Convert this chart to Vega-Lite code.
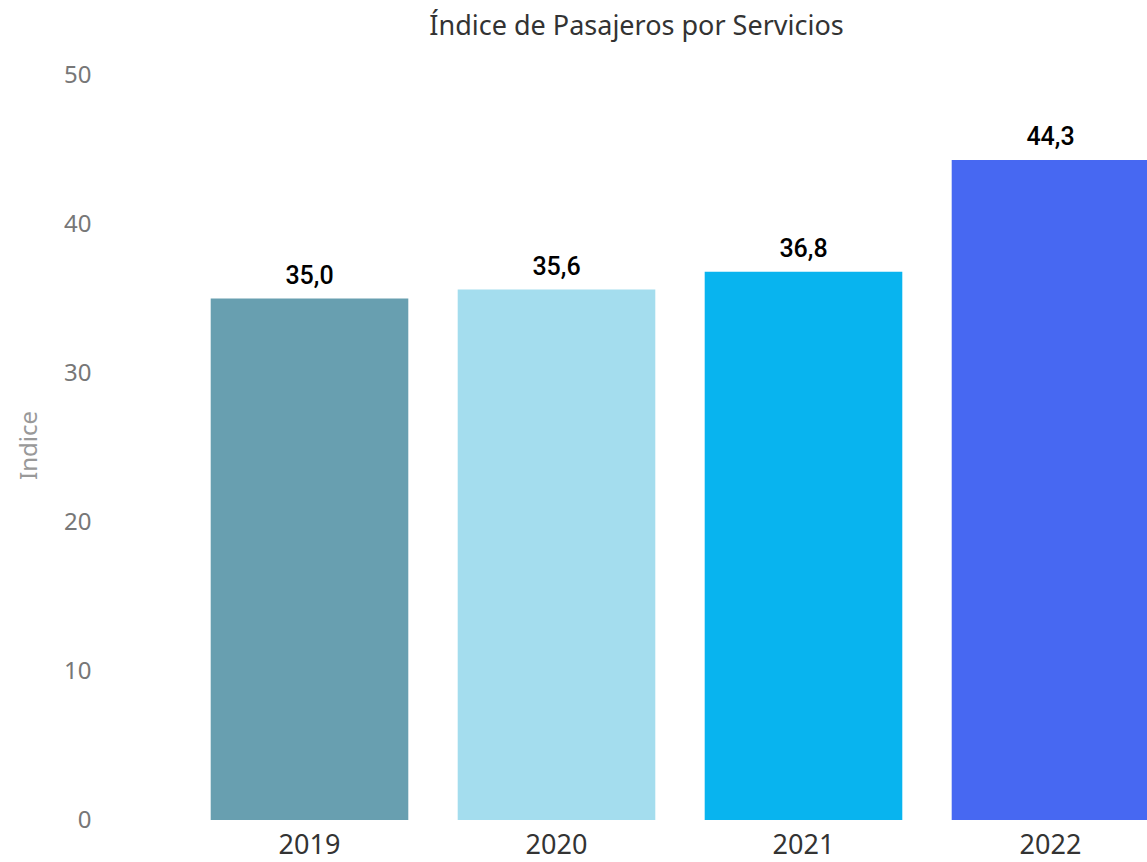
{
  "$schema": "https://vega.github.io/schema/vega-lite/v6.json",
  "autosize": {"type": "none"},
  "width": 961,
  "height": 745,
  "padding": {"left": 186, "top": 75, "right": 0, "bottom": 42},
  "background": "white",
  "config": {
    "view": {"stroke": null},
    "locale": {"number": {"decimal": ",", "thousands": ".", "grouping": [3], "currency": ["", " €"]}}
  },
  "title": {
    "text": "Índice de Pasajeros por Servicios",
    "font": "Noto Sans",
    "fontSize": 27,
    "fontWeight": "normal",
    "color": "#333333",
    "anchor": "middle",
    "frame": "group",
    "dx": -30,
    "dy": 37,
    "baseline": "alphabetic",
    "offset": 38
  },
  "data": {
    "values": [
      {"year": "2019", "indice": 35.0},
      {"year": "2020", "indice": 35.6},
      {"year": "2021", "indice": 36.8},
      {"year": "2022", "indice": 44.3}
    ]
  },
  "encoding": {
    "x": {
      "field": "year",
      "type": "nominal",
      "sort": null,
      "scale": {"range": [0, 988], "paddingInner": 0.2, "paddingOuter": 0.1},
      "axis": {
        "title": null,
        "labelAngle": 0,
        "labelFont": "Noto Sans",
        "labelFontSize": 27,
        "labelColor": "#333333",
        "labelPadding": 12,
        "domain": false,
        "ticks": false
      }
    },
    "y": {
      "field": "indice",
      "type": "quantitative",
      "scale": {"domain": [0, 50]},
      "axis": {
        "title": "Indice",
        "titleFont": "Noto Sans",
        "titleFontSize": 24,
        "titleFontWeight": "normal",
        "titleColor": "#999999",
        "titleX": -150,
        "titleY": 370,
        "titleAngle": -90,
        "titleAlign": "center",
        "titleBaseline": "alphabetic",
        "values": [0, 10, 20, 30, 40, 50],
        "labelFont": "Noto Sans",
        "labelFontSize": 24,
        "labelColor": "#777777",
        "labelPadding": 95,
        "grid": false,
        "domain": false,
        "ticks": false
      }
    }
  },
  "layer": [
    {
      "mark": {"type": "bar"},
      "encoding": {
        "color": {
          "field": "year",
          "type": "nominal",
          "scale": {"domain": ["2019", "2020", "2021", "2022"], "range": ["#689FB0", "#A4DDEE", "#08B4EF", "#4768F2"]},
          "legend": null
        }
      }
    },
    {
      "mark": {"type": "text", "baseline": "alphabetic", "dy": -15, "font": "Roboto", "fontWeight": 500, "fontSize": 25, "color": "#000000"},
      "encoding": {
        "text": {"field": "indice", "type": "quantitative", "format": ".1f"}
      }
    }
  ]
}
